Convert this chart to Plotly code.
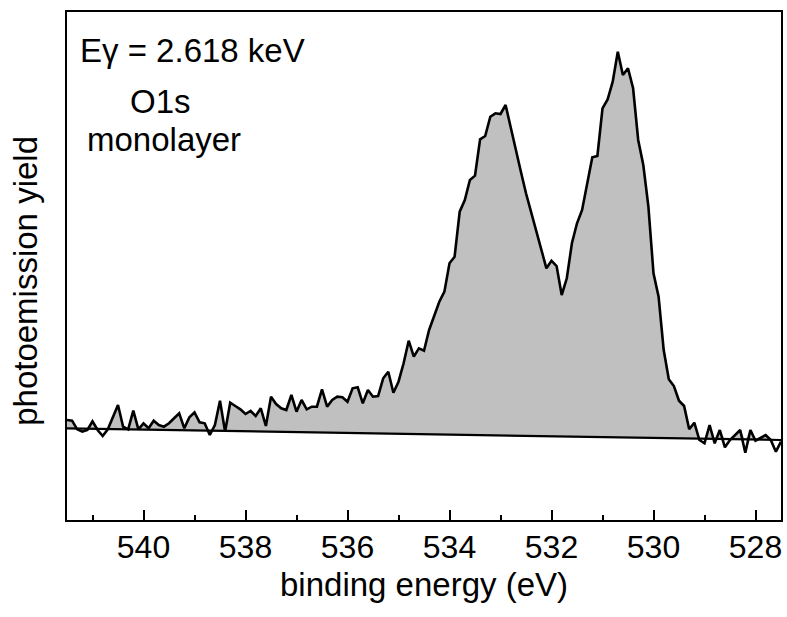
import numpy as np
import plotly.graph_objects as go

# binding energy grid (eV)
energy = [
    541.5, 541.4, 541.3, 541.2, 541.1, 541.0, 540.9, 540.8, 540.7, 540.6,
    540.5, 540.4, 540.3, 540.2, 540.1, 540.0, 539.9, 539.8, 539.7, 539.6,
    539.5, 539.4, 539.3, 539.2, 539.1, 539.0, 538.9, 538.8, 538.7, 538.6,
    538.5, 538.4, 538.3, 538.2, 538.1, 538.0, 537.9, 537.8, 537.7, 537.6,
    537.5, 537.4, 537.3, 537.2, 537.1, 537.0, 536.9, 536.8, 536.7, 536.6,
    536.5, 536.4, 536.3, 536.2, 536.1, 536.0, 535.9, 535.8, 535.7, 535.6,
    535.5, 535.4, 535.3, 535.2, 535.1, 535.0, 534.9, 534.8, 534.7, 534.6,
    534.5, 534.4, 534.3, 534.2, 534.1, 534.0, 533.9, 533.8, 533.7, 533.6,
    533.5, 533.4, 533.3, 533.2, 533.1, 533.0, 532.9, 532.8, 532.7, 532.6,
    532.5, 532.4, 532.3, 532.2, 532.1, 532.0, 531.9, 531.8, 531.7, 531.6,
    531.5, 531.4, 531.3, 531.2, 531.1, 531.0, 530.9, 530.8, 530.7, 530.6,
    530.5, 530.4, 530.3, 530.2, 530.1, 530.0, 529.9, 529.8, 529.7, 529.6,
    529.5, 529.4, 529.3, 529.2, 529.1, 529.0, 528.9, 528.8, 528.7, 528.6,
    528.5, 528.4, 528.3, 528.2, 528.1, 528.0, 527.9, 527.8, 527.7, 527.6,
    527.5,
]

# photoemission yield (arb. units)
intensity = [
    100.0, 99.3, 90.7, 88.3, 90.0, 98.7, 90.0, 84.0, 90.7, 103.0,
    115.0, 93.3, 90.7, 109.3, 90.7, 96.7, 91.7, 99.3, 95.0, 93.3,
    96.7, 101.7, 106.7, 91.7, 102.7, 107.7, 97.7, 96.7, 85.0, 95.0,
    119.3, 88.3, 117.3, 114.0, 110.7, 106.0, 109.0, 104.0, 111.7, 94.0,
    123.3, 116.0, 111.7, 110.0, 125.0, 108.3, 120.0, 110.7, 113.3, 113.3,
    130.7, 113.3, 120.0, 123.3, 122.7, 118.3, 131.7, 132.7, 116.7, 130.0,
    123.3, 124.0, 141.7, 148.3, 127.3, 138.3, 156.7, 179.3, 163.3, 171.7,
    169.3, 190.0, 203.3, 218.3, 228.3, 256.7, 263.3, 308.3, 320.0, 340.0,
    344.3, 380.7, 384.0, 403.3, 406.7, 406.0, 415.0, 391.7, 371.7, 348.3,
    326.7, 307.3, 290.0, 270.0, 251.7, 259.3, 254.0, 225.0, 241.7, 276.7,
    296.7, 310.0, 336.7, 362.7, 364.0, 411.7, 420.5, 438.3, 468.3, 445.0,
    451.7, 431.7, 380.0, 355.0, 313.3, 246.7, 223.3, 170.0, 140.7, 134.0,
    119.3, 114.0, 90.7, 97.3, 80.0, 76.7, 95.0, 76.7, 90.0, 72.7,
    80.0, 85.0, 90.0, 67.3, 90.0, 79.3, 82.0, 85.0, 80.0, 68.3,
    78.3,
]

# linear background (end points)
bg_energy = [541.5, 527.5]
bg_level = [91.7, 80.0]

x_range = [541.5, 527.5]
y_range = [0, 508]

FONT = "Liberation Sans, Arial, Helvetica, sans-serif"

x = np.array(energy)
y = np.array(intensity)
base = np.interp(x[::-1], bg_energy[::-1], bg_level[::-1])[::-1]
upper = np.maximum(y, base)

fig = go.Figure()
fig.add_trace(go.Scatter(x=x, y=base, mode="lines", line=dict(width=0, color="rgba(0,0,0,0)"),
                         hoverinfo="skip", showlegend=False))
fig.add_trace(go.Scatter(x=x, y=upper, mode="lines", fill="tonexty", fillcolor="#c0c0c0",
                         line=dict(width=0, color="rgba(0,0,0,0)"), hoverinfo="skip", showlegend=False))
fig.add_trace(go.Scatter(x=x, y=y, mode="lines", line=dict(color="black", width=2.6),
                         showlegend=False))
fig.add_trace(go.Scatter(x=bg_energy, y=bg_level, mode="lines", line=dict(color="black", width=2.2),
                         showlegend=False))

fig.update_layout(
    width=787, height=617,
    margin=dict(l=67, r=4, t=12, b=97),
    paper_bgcolor="white", plot_bgcolor="white",
    font=dict(family=FONT, size=32, color="black"),
    showlegend=False,
)
fig.update_xaxes(
    range=x_range, autorange=False,
    showline=True, linecolor="black", linewidth=2.2, mirror=True,
    ticks="inside", ticklen=10, tickwidth=2, tickcolor="black",
    tick0=528, dtick=2,
    minor=dict(ticks="inside", ticklen=5, tickwidth=1.5, tickcolor="black", dtick=1, tick0=527),
    showgrid=False, zeroline=False,
    ticklabelstandoff=-3,
    tickfont=dict(family=FONT, size=32, color="black"),
)
fig.update_yaxes(
    range=y_range, autorange=False,
    showline=True, linecolor="black", linewidth=2.2, mirror=True,
    ticks="", showticklabels=False, showgrid=False, zeroline=False,
)

ann = [
    dict(text="Eγ = 2.618 keV", x=0.016, y=0.925, xanchor="left", yanchor="middle", size=33),
    dict(text="O1s", x=0.131, y=0.823, xanchor="center", yanchor="middle", size=33),
    dict(text="monolayer", x=0.136, y=0.75, xanchor="center", yanchor="middle", size=33),
]
for a in ann:
    fig.add_annotation(text=a["text"], xref="x domain", yref="y domain", x=a["x"], y=a["y"],
                       xanchor=a["xanchor"], yanchor=a["yanchor"], showarrow=False,
                       font=dict(family=FONT, size=a["size"], color="black"))

fig.add_annotation(text="binding energy (eV)", xref="paper", yref="paper", x=0.5, y=-0.126,
                   xanchor="center", yanchor="middle", showarrow=False,
                   font=dict(family=FONT, size=33, color="black"))
fig.add_annotation(text="photoemission yield", xref="paper", yref="paper", x=-0.058, y=0.47,
                   xanchor="center", yanchor="middle", textangle=-90, showarrow=False,
                   font=dict(family=FONT, size=33, color="black"))

fig.write_html("out.html")
